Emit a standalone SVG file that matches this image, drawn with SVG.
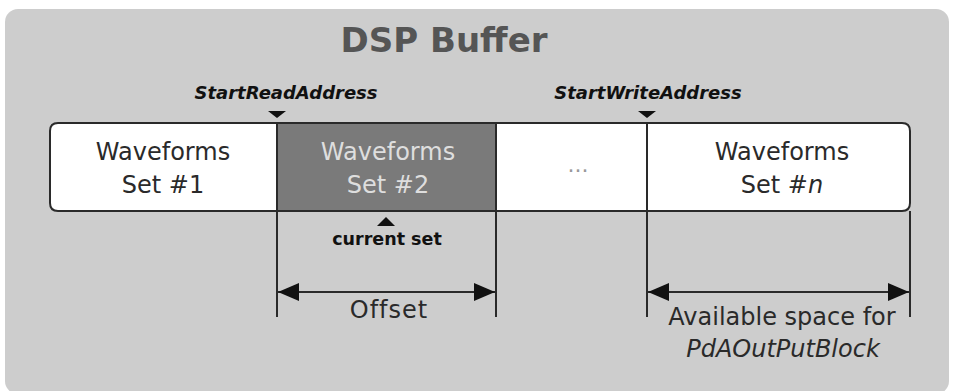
<svg xmlns="http://www.w3.org/2000/svg" width="953" height="391" viewBox="0 0 953 391">
<defs>
<style>
.t{font-family:"DejaVu Sans","Liberation Sans",sans-serif;fill:#2a2a2a;text-anchor:middle}
.w{font-size:24px}
.lbl{font-size:18px;font-weight:bold;font-style:italic;fill:#111}
.ln{stroke:#2a2a2a;stroke-width:2;fill:none}
.tri{fill:#111}
</style>
<marker id="ah" viewBox="0 0 21 18" refX="21" refY="9" markerWidth="21" markerHeight="18" markerUnits="userSpaceOnUse" orient="auto-start-reverse">
<path d="M0,0 L21,9 L0,18 Z" fill="#111"/>
</marker>
</defs>
<rect x="0" y="0" width="953" height="391" fill="#ffffff"/>
<rect id="bg" x="5" y="9" width="944" height="385" rx="13" fill="#cdcdcd"/>
<text class="t" x="444" y="52" style="font-size:34px;font-weight:bold;fill:#555">DSP Buffer</text>

<g id="set1">
<path d="M277,123 L58,123 Q50,123 50,131 L50,203 Q50,211 58,211 L277,211 Z" fill="#fff" stroke="#2a2a2a" stroke-width="2"/>
<text class="t w" x="163" y="160">Waveforms</text>
<text class="t w" x="163" y="193">Set #1</text>
</g>
<g id="set2">
<rect x="277" y="123" width="219" height="88" fill="#7a7a7a" stroke="#2a2a2a" stroke-width="2"/>
<text class="t w" x="388" y="160" style="fill:#dedede">Waveforms</text>
<text class="t w" x="388" y="193" style="fill:#dedede">Set #2</text>
</g>
<g id="dots">
<rect x="496" y="123" width="151" height="88" fill="#fff" stroke="#2a2a2a" stroke-width="2"/>
<text class="t" x="578" y="172" style="font-size:22px;fill:#999">...</text>
</g>
<g id="setn">
<path d="M647,123 L902,123 Q910,123 910,131 L910,203 Q910,211 902,211 L647,211 Z" fill="#fff" stroke="#2a2a2a" stroke-width="2"/>
<text class="t w" x="782" y="160">Waveforms</text>
<text class="t w" x="782" y="193">Set #<tspan font-style="italic">n</tspan></text>
</g>

<g id="startRead">
<text class="t lbl" x="286" y="99">StartReadAddress</text>
<path class="tri" d="M268,111 L286,111 L277,118 Z"/>
</g>
<g id="startWrite">
<text class="t lbl" x="648" y="99">StartWriteAddress</text>
<path class="tri" d="M638,111 L656,111 L647,118 Z"/>
</g>
<g id="current">
<path class="tri" d="M386,217 L377,226 L395,226 Z"/>
<text class="t" x="387" y="245" style="font-size:17.5px;font-weight:bold;fill:#111">current set</text>
</g>

<g id="connectors">
<line class="ln" x1="277" y1="211" x2="277" y2="317"/>
<line class="ln" x1="496" y1="211" x2="496" y2="317"/>
<line class="ln" x1="647" y1="211" x2="647" y2="317"/>
<line class="ln" x1="910" y1="211" x2="910" y2="317"/>
<line class="ln" x1="278" y1="292" x2="495" y2="292" marker-start="url(#ah)" marker-end="url(#ah)"/>
<line class="ln" x1="648" y1="292" x2="909" y2="292" marker-start="url(#ah)" marker-end="url(#ah)"/>
</g>

<g id="offset">
<text class="t w" x="389" y="318" style="letter-spacing:1px">Offset</text>
</g>
<g id="avail">
<text class="t w" x="782" y="325">Available space for</text>
<text class="t w" x="783" y="357" font-style="italic">PdAOutPutBlock</text>
</g>
</svg>
